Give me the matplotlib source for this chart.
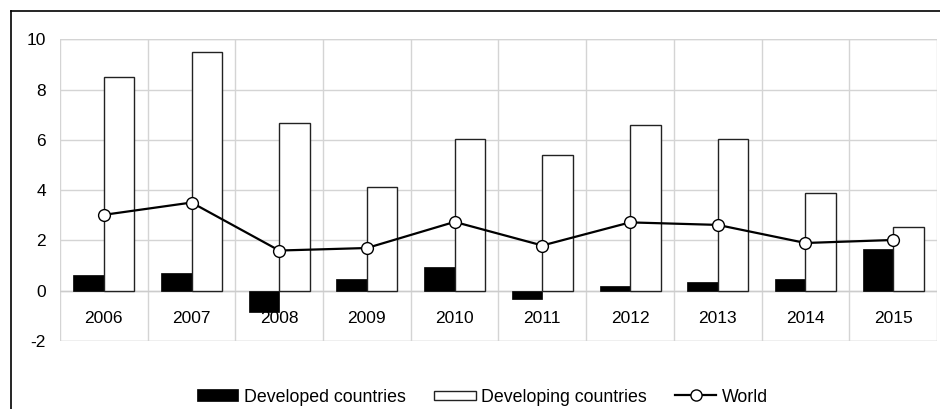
import matplotlib
matplotlib.use("Agg")
import matplotlib.pyplot as plt
from matplotlib.patches import Patch, Rectangle
from matplotlib.lines import Line2D
from matplotlib.legend_handler import HandlerPatch
import numpy as np

plt.rcParams['font.family'] = ['Liberation Sans', 'DejaVu Sans']

years = ["2006", "2007", "2008", "2009", "2010", "2011", "2012", "2013", "2014", "2015"]
developed = [0.64, 0.72, -0.86, 0.48, 0.93, -0.32, 0.20, 0.36, 0.48, 1.68]
developing = [8.5, 9.52, 6.69, 4.11, 6.02, 5.39, 6.6, 6.02, 3.88, 2.52]
world = [3.02, 3.51, 1.60, 1.70, 2.74, 1.80, 2.72, 2.62, 1.90, 2.02]
yticks = [-2, 0, 2, 4, 6, 8, 10]

fig = plt.figure(figsize=(9.4, 4.09), dpi=100)
ax = fig.add_axes([0.0638, 0.1663, 0.9330, 0.7372])

x = np.arange(len(years))
w = 0.348
ax.bar(x - w / 2, developed, width=w, color='black', edgecolor='black', linewidth=0.5, zorder=3)
ax.bar(x + w / 2, developing, width=w, color='white', edgecolor='#222222', linewidth=1.0, zorder=3)
ax.plot(x, world, color='black', linewidth=1.6, marker='o', markersize=8.5,
        markerfacecolor='white', markeredgecolor='black', markeredgewidth=1.0, zorder=5)

ax.set_xlim(-0.5, len(years) - 0.5)
ax.set_ylim(-2, 10)
ax.set_yticks(yticks)
ax.set_yticklabels([str(v) for v in yticks], fontsize=12.5)
ax.set_xticks(x)
ax.set_xticklabels([])
ax.set_xticks(np.arange(len(years) + 1) - 0.5, minor=True)
ax.tick_params(axis='both', which='both', length=0)
ax.tick_params(axis='y', pad=10)
ax.grid(axis='y', which='major', color='#d4d4d4', linewidth=1.0, zorder=0)
ax.grid(axis='x', which='minor', color='#d4d4d4', linewidth=1.0, zorder=0)
for s in ax.spines.values():
    s.set_visible(False)
ax.axhline(0, color='#cccccc', linewidth=1.0, zorder=2)
ax.axhline(-2, color='#d4d4d4', linewidth=1.0, zorder=1)
ax.axhline(10, color='#d4d4d4', linewidth=1.0, zorder=1)

for xi, lab in zip(x, years):
    ax.text(xi, -1.1, lab, ha='center', va='center', fontsize=12.5, zorder=4)


def full_rect(legend, orig_handle, xdescent, ydescent, width, height, fontsize):
    return Rectangle((-xdescent, -ydescent), width, height)


def thin_rect(legend, orig_handle, xdescent, ydescent, width, height, fontsize):
    sh = height * 0.75
    return Rectangle((-xdescent, -ydescent + (height - sh) / 2), width, sh)


h_dev = Patch(facecolor='black', edgecolor='black', linewidth=0.5)
h_dvg = Patch(facecolor='white', edgecolor='#222222', linewidth=1.0)
h_wld = Line2D([0], [0], color='black', linewidth=1.6, marker='o', markersize=8,
               markerfacecolor='white', markeredgecolor='black', markeredgewidth=1.0)
handles = [h_dev, h_dvg, h_wld]
labels = ["Developed countries", "Developing countries", "World"]
fig.legend(handles, labels, loc='center', bbox_to_anchor=(0.513, 0.029), ncol=3,
           frameon=False, fontsize=12.8, handlelength=2.36, handleheight=0.675,
           handletextpad=0.3, columnspacing=1.57, borderaxespad=0, markerscale=1.0,
           handler_map={h_dev: HandlerPatch(patch_func=full_rect),
                        h_dvg: HandlerPatch(patch_func=thin_rect)})

# outer frame lines (left and top)
fig.add_artist(Line2D([10.5 / 940, 10.5 / 940], [0, 1 - 11 / 409], color='black', linewidth=1.2,
                      transform=fig.transFigure))
fig.add_artist(Line2D([10.5 / 940, 1], [1 - 11 / 409, 1 - 11 / 409], color='black', linewidth=1.2,
                      transform=fig.transFigure))

fig.savefig("out.png", dpi=100)
